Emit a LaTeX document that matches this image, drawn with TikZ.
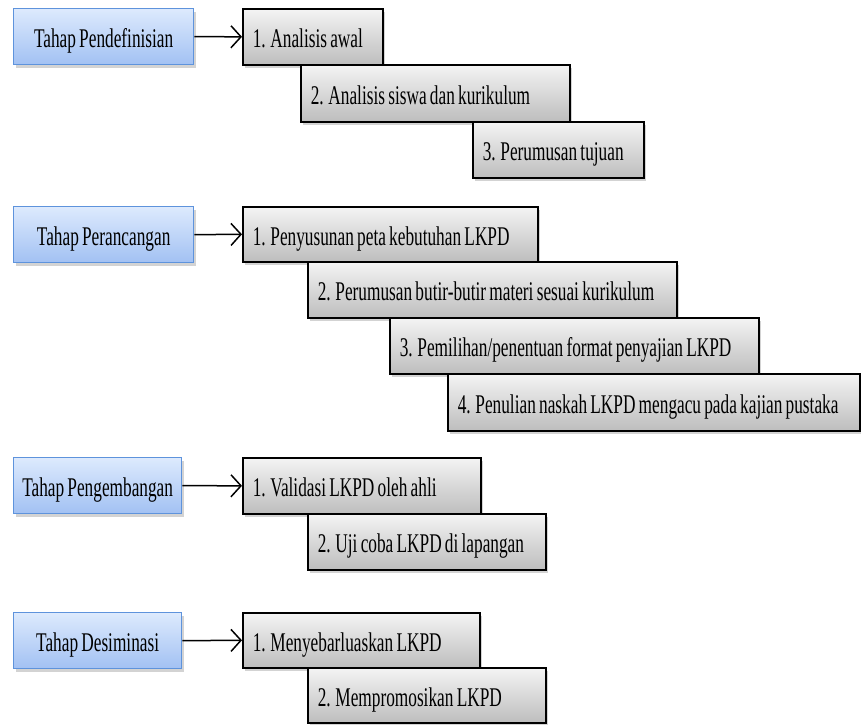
\documentclass[tikz,border=0pt]{standalone}
\usepackage{fontspec}
\newfontfamily\boxfont[FakeStretch=0.64,WordSpace=0.75]{Liberation Serif}
\usetikzlibrary{arrows.meta,shadows}
\definecolor{gtop}{HTML}{F4F4F4}
\definecolor{gbot}{HTML}{BDBDBD}
\definecolor{btop}{HTML}{DDEAFD}
\definecolor{bbot}{HTML}{A2C1F3}
\definecolor{bborder}{HTML}{5E93DC}
\tikzset{
  graybox/.style={draw=black, line width=1.6pt, top color=gtop, bottom color=gbot,
    anchor=north west, inner xsep=10pt, inner ysep=0pt,
    text height=22pt, text depth=0pt,
    font=\boxfont\fontsize{27}{31}\selectfont,
    drop shadow={opacity=0.35, shadow xshift=2pt, shadow yshift=-3pt}},
  bluebox/.style={draw=bborder, line width=1.3pt, top color=btop, bottom color=bbot,
    minimum width=180pt, minimum height=56pt, anchor=north west, inner sep=0pt,
    text height=22pt, text depth=0pt,
    align=center, font=\boxfont\fontsize{27}{31}\selectfont,
    drop shadow={opacity=0.35, shadow xshift=2pt, shadow yshift=-3pt}},
  link/.style={line width=1.5pt, -{Straight Barb[length=10pt,width=22pt,line width=1.5pt]}}
}
\newcommand{\gb}[6]{% name, x1, y1, x2, y2, text
  \node[graybox, minimum height={#5pt-#3pt}] (#1) at (#2,#3)
    {\makebox[\dimexpr#4pt-#2pt-20pt\relax][l]{#6}};}
\begin{document}
\begin{tikzpicture}[x=1pt,y=-1pt]
\useasboundingbox (0,0) rectangle (861,724);
% Tahap Pendefinisian
\node[bluebox] (b1) at (13,8) {Tahap Pendefinisian};
\gb{d1}{242}{8}{382}{64}{1. Analisis awal}
\gb{d2}{300}{64}{569}{121}{2. Analisis siswa dan kurikulum}
\gb{d3}{472}{121}{643}{177}{3. Perumusan tujuan}
\draw[link] (b1.east) -- (d1.west);
% Tahap Perancangan
\node[bluebox] (b2) at (13,206) {Tahap Perancangan};
\gb{p1}{242}{206}{537}{261}{1. Penyusunan peta kebutuhan LKPD}
\gb{p2}{307}{261}{676}{317}{2. Perumusan butir-butir materi sesuai kurikulum}
\gb{p3}{389}{317}{758}{373}{3. Pemilihan/penentuan format penyajian LKPD}
\gb{p4}{447}{373}{859}{430}{4. Penulian naskah LKPD mengacu pada kajian pustaka}
\draw[link] (b2.east) -- (p1.west);
% Tahap Pengembangan
\node[bluebox, minimum width=168pt] (b3) at (13,457) {Tahap Pengembangan};
\gb{g1}{242}{457}{480}{513}{1. Validasi LKPD oleh ahli}
\gb{g2}{307}{513}{545}{569}{2. Uji coba LKPD di lapangan}
\draw[link] (b3.east) -- (g1.west);
% Tahap Desiminasi
\node[bluebox, minimum width=168pt] (b4) at (13,612) {Tahap Desiminasi};
\gb{s1}{242}{612}{479}{667}{1. Menyebarluaskan LKPD}
\gb{s2}{307}{667}{545}{722}{2. Mempromosikan LKPD}
\draw[link] (b4.east) -- (s1.west);
\end{tikzpicture}
\end{document}
